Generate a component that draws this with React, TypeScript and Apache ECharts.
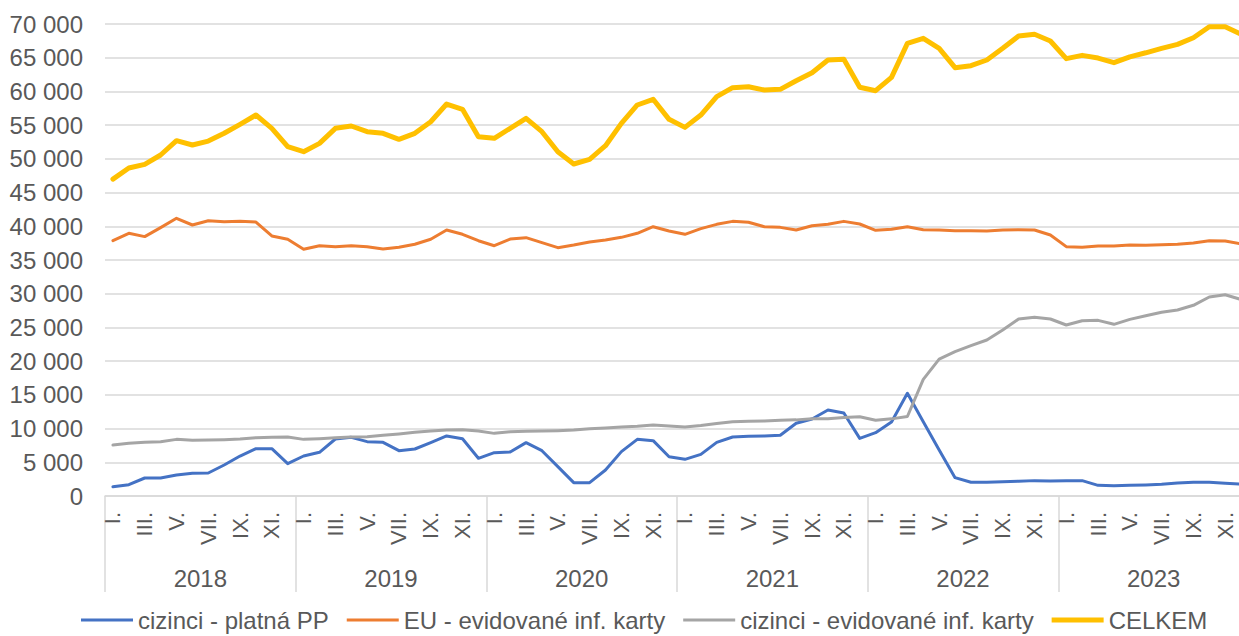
import React, { useEffect, useRef } from "react";
import * as echarts from "echarts";

const years = ["2018", "2019", "2020", "2021", "2022", "2023"];
const months = ["I.", "II.", "III.", "IV.", "V.", "VI.", "VII.", "VIII.", "IX.", "X.", "XI.", "XII."];
const yTicks = { min: 0, max: 70000, interval: 5000 };

const seriesNames = [
  "cizinci - platná PP",
  "EU - evidované inf. karty",
  "cizinci - evidované inf. karty",
  "CELKEM",
];

const cizinciPP = [
  1380, 1680, 2670, 2670, 3110, 3360, 3410, 4600, 5930, 7020, 7020, 4790,
  5930, 6480, 8450, 8700, 8060, 7960, 6720, 6970, 7910, 8900, 8500, 5590,
  6430, 6530, 7910, 6720, 4350, 1980, 1980, 3860, 6580, 8400, 8210, 5830,
  5440, 6180, 7960, 8750, 8850, 8900, 9000, 10780, 11420, 12750, 12310, 8550,
  9390, 10970, 15230, 11000, 6820, 2720, 2030, 2030, 2130, 2180, 2280, 2230,
  2280, 2280, 1580, 1530, 1580, 1630, 1730, 1930, 2030, 2030, 1880, 1780,
];

const euKarty = [
  37860, 38960, 38470, 39800, 41190, 40190, 40830, 40680, 40730, 40630, 38560, 38070,
  36590, 37120, 36980, 37120, 36980, 36630, 36880, 37330, 38070, 39450, 38810, 37860,
  37120, 38110, 38310, 37570, 36830, 37220, 37670, 37960, 38360, 38960, 39940, 39300,
  38810, 39650, 40290, 40730, 40590, 39940, 39840, 39450, 40090, 40290, 40730, 40340,
  39400, 39550, 39940, 39500, 39450, 39350, 39350, 39300, 39450, 39500, 39450, 38710,
  36980, 36880, 37080, 37080, 37220, 37170, 37270, 37320, 37520, 37860, 37810, 37400,
];

const cizinciKarty = [
  7560, 7810, 7960, 8060, 8400, 8250, 8300, 8350, 8450, 8650, 8700, 8750,
  8400, 8500, 8650, 8750, 8800, 9000, 9200, 9440, 9640, 9790, 9840, 9640,
  9290, 9540, 9590, 9640, 9690, 9790, 9990, 10090, 10240, 10340, 10540, 10390,
  10240, 10440, 10740, 11000, 11090, 11140, 11240, 11290, 11440, 11440, 11640, 11740,
  11240, 11440, 11790, 17300, 20310, 21400, 22290, 23130, 24620, 26250, 26500, 26250,
  25360, 26000, 26050, 25460, 26200, 26740, 27240, 27580, 28280, 29510, 29850, 29150,
];

const celkem = [
  47000, 48640, 49190, 50570, 52700, 52050, 52640, 53790, 55120, 56500, 54530, 51800,
  51060, 52300, 54530, 54870, 54030, 53790, 52900, 53790, 55510, 58130, 57340, 53290,
  53050, 54530, 56010, 54030, 51060, 49240, 49930, 51950, 55270, 57990, 58830, 55860,
  54670, 56500, 59220, 60560, 60700, 60210, 60310, 61590, 62780, 64660, 64760, 60610,
  60110, 62090, 67130, 67870, 66390, 63520, 63820, 64660, 66390, 68220, 68470, 67480,
  64860, 65350, 64950, 64260, 65130, 65730, 66390, 66980, 67970, 69600, 69600, 68500,
];

const colors = ["#4472C4", "#ED7D31", "#A5A5A5", "#FFC000"];
const lineWidths = [3, 3, 3, 5];
const FONT = "'Liberation Sans', Arial, sans-serif";
const TEXT = "#595959";
const GRID = "#D9D9D9";

function fmt(v: number): string {
  return String(v).replace(/\B(?=(\d{3})+(?!\d))/g, " ");
}

export default function App() {
  const ref = useRef<HTMLDivElement>(null);

  useEffect(() => {
    if (!ref.current) return;
    const chart = echarts.init(ref.current, null, { renderer: "svg" });
    const cats: string[] = [];
    years.forEach((y) => months.forEach((m) => cats.push(y + " " + m)));
    const allData = [cizinciPP, euKarty, cizinciKarty, celkem];

    chart.setOption({
      animation: false,
      textStyle: { fontFamily: FONT },
      color: colors,
      grid: { left: 105, right: 0, top: 24, bottom: 140, containLabel: false },
      legend: {
        left: 76,
        top: 603,
        itemWidth: 52,
        itemHeight: 14,
        itemGap: 18,
        symbolKeepAspect: true,
        textStyle: { fontSize: 24, lineHeight: 24, color: TEXT, fontFamily: FONT },
        data: seriesNames.map((name, i) => ({
          name,
          icon: i === 3 ? "path://M0,0H52V5H0Z" : "path://M0,0H52V3H0Z",
          itemStyle: { color: colors[i] },
        })),
      },
      xAxis: [
        {
          type: "category",
          data: cats,
          boundaryGap: true,
          axisLine: { show: true, lineStyle: { color: GRID, width: 1.5 } },
          axisTick: { show: false },
          axisLabel: {
            interval: 1,
            rotate: 90,
            fontSize: 22,
            color: TEXT,
            margin: 16,
            fontFamily: FONT,
            formatter: (v: string) => v.split(" ")[1],
          },
          splitLine: { show: false },
        },
        {
          type: "category",
          data: years,
          position: "bottom",
          boundaryGap: true,
          axisLine: { show: false },
          axisTick: {
            show: true,
            interval: 0,
            length: 96,
            lineStyle: { color: GRID, width: 1.5 },
          },
          axisLabel: {
            interval: 0,
            fontSize: 24,
            color: TEXT,
            margin: 70,
            fontFamily: FONT,
          },
          splitLine: { show: false },
        },
      ],
      yAxis: {
        type: "value",
        min: yTicks.min,
        max: yTicks.max,
        interval: yTicks.interval,
        axisLine: { show: false },
        axisTick: { show: false },
        axisLabel: {
          fontSize: 24,
          color: TEXT,
          margin: 22,
          fontFamily: FONT,
          formatter: (v: number) => fmt(v),
        },
        splitLine: { show: true, lineStyle: { color: GRID, width: 1.5 } },
      },
      series: seriesNames.map((name, i) => ({
        name,
        type: "line",
        xAxisIndex: 0,
        yAxisIndex: 0,
        data: allData[i],
        symbol: "none",
        showSymbol: false,
        lineStyle: {
          width: lineWidths[i],
          color: colors[i],
          cap: "round",
          join: "round",
        },
        itemStyle: { color: colors[i] },
      })),
    });

    return () => {
      chart.dispose();
    };
  }, []);

  return (
    <div
      style={{
        position: "absolute",
        left: 0,
        top: 0,
        width: 1239,
        height: 636,
        overflow: "hidden",
        background: "#ffffff",
      }}
    >
      <div ref={ref} style={{ width: 1249, height: 636 }} />
    </div>
  );
}
